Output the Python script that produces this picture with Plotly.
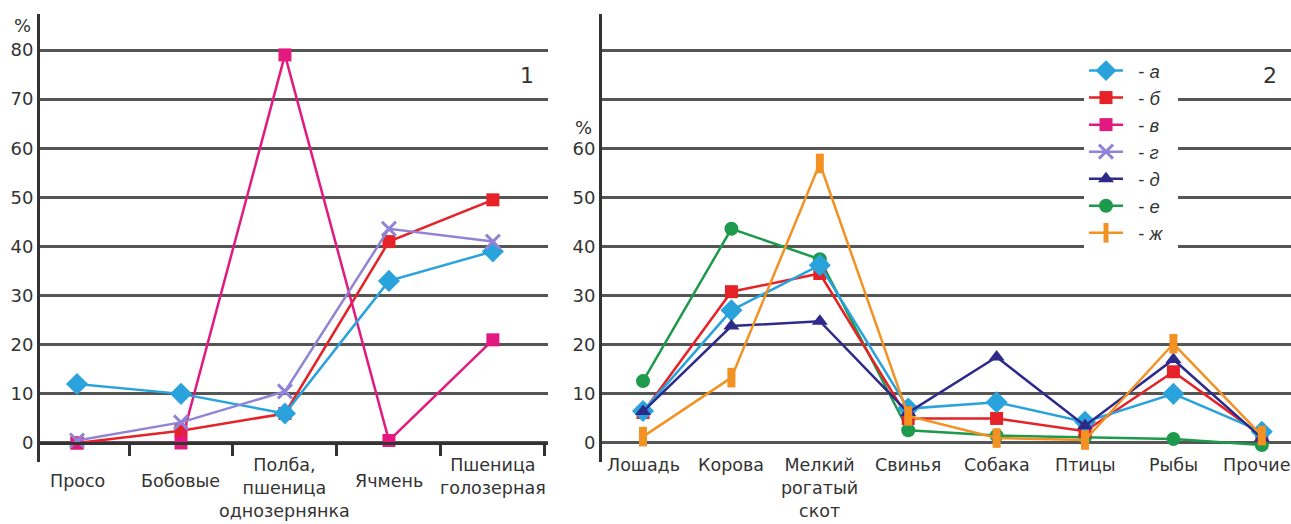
import plotly.graph_objects as go

# ---------------- data ----------------
cereals = ["Просо", "Бобовые", "Полба,<br>пшеница<br>однозернянка", "Ячмень", "Пшеница<br>голозерная"]
cereal_a = [12, 10, 6, 33, 39]
cereal_b = [0, 2.5, 6, 41, 49.5]
cereal_v = [0, 0, 79, 0.5, 21]
cereal_g = [0.5, 4.2, 10.5, 43.6, 41]

animals = ["Лошадь", "Корова", "Мелкий<br>рогатый<br>скот", "Свинья", "Собака", "Птицы", "Рыбы", "Прочие"]
animal_a = [6.5, 27, 36.2, 7, 8.3, 4.3, 10, 2.3]
animal_b = [6.2, 30.8, 34.5, 5, 5, 2.4, 14.5, 1.5]
animal_d = [6.4, 23.8, 24.8, 6.2, 17.5, 3.5, 17, 1]
animal_e = [12.6, 43.6, 37.4, 2.6, 1.5, 1.2, 0.8, -0.4]
animal_zh = [1.3, 13.3, 56.9, 5.5, 1, 0.6, 20.2, 1.5]

y_ticks = [0, 10, 20, 30, 40, 50, 60, 70, 80]
y_labels_1 = [str(v) for v in y_ticks]
y_labels_2 = [str(v) if v <= 60 else "" for v in y_ticks]

series_names = ["а", "б", "в", "г", "д", "е", "ж"]

# ---------------- styles ----------------
W, H = 1291, 524
FONT = "DejaVu Sans"
TXT = "#333333"
GRID = "#555555"

styles = {
    "а": dict(color="#2aa3dd", symbol="diamond", size=17, lw=0),
    "б": dict(color="#e52227", symbol="square", size=13, lw=0),
    "в": dict(color="#e2197f", symbol="square", size=13, lw=0),
    "г": dict(color="#9184d4", symbol="x-thin-open", size=14, lw=3),
    "д": dict(color="#2d2a8a", symbol="triangle-up", size=14, lw=0),
    "е": dict(color="#1d9a4b", symbol="circle", size=14, lw=0),
    "ж": dict(color="#f39223", symbol="line-ns", size=14, lw=8),
}

def px_y(py):
    return (H - py) / H

fig = go.Figure()
shown = set()

def add(name, xs, ys, xa, ya):
    s = styles[name]
    marker = dict(symbol=s["symbol"], size=s["size"], color=s["color"])
    if s["lw"]:
        marker["line"] = dict(width=s["lw"], color=s["color"])
    fig.add_trace(go.Scatter(
        x=xs, y=ys, mode="lines+markers", name="\u00a0\u00a0- <i>" + name + "</i>\u00a0\u00a0",
        line=dict(color=s["color"], width=2.5), marker=marker,
        xaxis=xa, yaxis=ya, legendgroup=name,
        legendrank=series_names.index(name) + 1,
        showlegend=name not in shown, cliponaxis=False,
    ))
    shown.add(name)

x1 = list(range(len(cereals)))
x2 = list(range(len(animals)))

# panel 1 (draw order)
add("б", x1, cereal_b, "x", "y")
add("в", x1, cereal_v, "x", "y")
add("а", x1, cereal_a, "x", "y")
add("г", x1, cereal_g, "x", "y")
# panel 2
add("е", x2, animal_e, "x2", "y2")
add("б", x2, animal_b, "x2", "y2")
add("а", x2, animal_a, "x2", "y2")
add("д", x2, animal_d, "x2", "y2")
add("ж", x2, animal_zh, "x2", "y2")

y_range = [-3.87, 87.33]
y_dom = [62 / H, 510 / H]
axfont = dict(family=FONT, size=18, color=TXT)

fig.update_layout(
    width=W, height=H,
    margin=dict(l=0, r=0, t=0, b=0),
    paper_bgcolor="white", plot_bgcolor="white",
    font=dict(family=FONT, color=TXT),
    xaxis=dict(domain=[40 / W, 548 / W], range=[-0.356, 4.53],
               anchor="free", position=px_y(443),
               showline=True, linecolor=TXT, linewidth=2.5,
               tickmode="array", tickvals=[i + 0.5 for i in x1],
               ticktext=[""] * len(x1), ticks="outside", ticklen=11,
               tickwidth=2.5, tickcolor=TXT, showgrid=False, zeroline=False),
    yaxis=dict(domain=y_dom, range=y_range, anchor="x",
               tickmode="array", tickvals=y_ticks, ticktext=y_labels_1,
               showgrid=True, gridcolor=GRID, gridwidth=2.5,
               showline=True, linecolor=TXT, linewidth=3, zeroline=False,
               ticks="", tickfont=axfont),
    xaxis2=dict(domain=[602 / W, 1.0], range=[-0.464, 7.33], anchor="y2",
                showline=False, showticklabels=False, ticks="",
                showgrid=False, zeroline=False),
    yaxis2=dict(domain=y_dom, range=y_range, anchor="x2",
                tickmode="array", tickvals=y_ticks, ticktext=y_labels_2,
                showgrid=True, gridcolor=GRID, gridwidth=2.5,
                showline=True, linecolor=TXT, linewidth=3, zeroline=False,
                ticks="", tickfont=axfont),
    legend=dict(x=1084 / W, y=px_y(52), xanchor="left", yanchor="top",
                bgcolor="white", borderwidth=0,
                font=dict(family="Liberation Sans", size=18.5, color=TXT),
                itemwidth=34, tracegroupgap=0),
)

LABEL_FONT = dict(family=FONT, size=17.5, color=TXT)
annotations = []
for i, lab in enumerate(cereals):
    top = 453 if "<br>" in lab else 469
    annotations.append(dict(x=i, y=px_y(top), xref="x", yref="paper",
                            text=lab, showarrow=False, yanchor="top",
                            xanchor="center", font=LABEL_FONT))
for i, lab in enumerate(animals):
    annotations.append(dict(x=i, y=px_y(453), xref="x2", yref="paper",
                            text=lab, showarrow=False, yanchor="top",
                            xanchor="center", font=LABEL_FONT,
                            xshift=-5 if i == len(animals) - 1 else 0))
for txt, xp, yp, fs in [("%", 22, 25, 18), ("%", 583, 127, 18), ("1", 527, 75, 22), ("2", 1270, 75, 22)]:
    annotations.append(dict(x=xp / W, y=px_y(yp), xref="paper", yref="paper", text=txt,
                            showarrow=False, xanchor="center", yanchor="middle",
                            font=dict(family=FONT, size=fs, color=TXT)))
fig.update_layout(annotations=annotations)

fig.write_html("out.html", config={"displayModeBar": False},
               post_script="document.body.style.margin='0';document.body.style.overflow='hidden';")
